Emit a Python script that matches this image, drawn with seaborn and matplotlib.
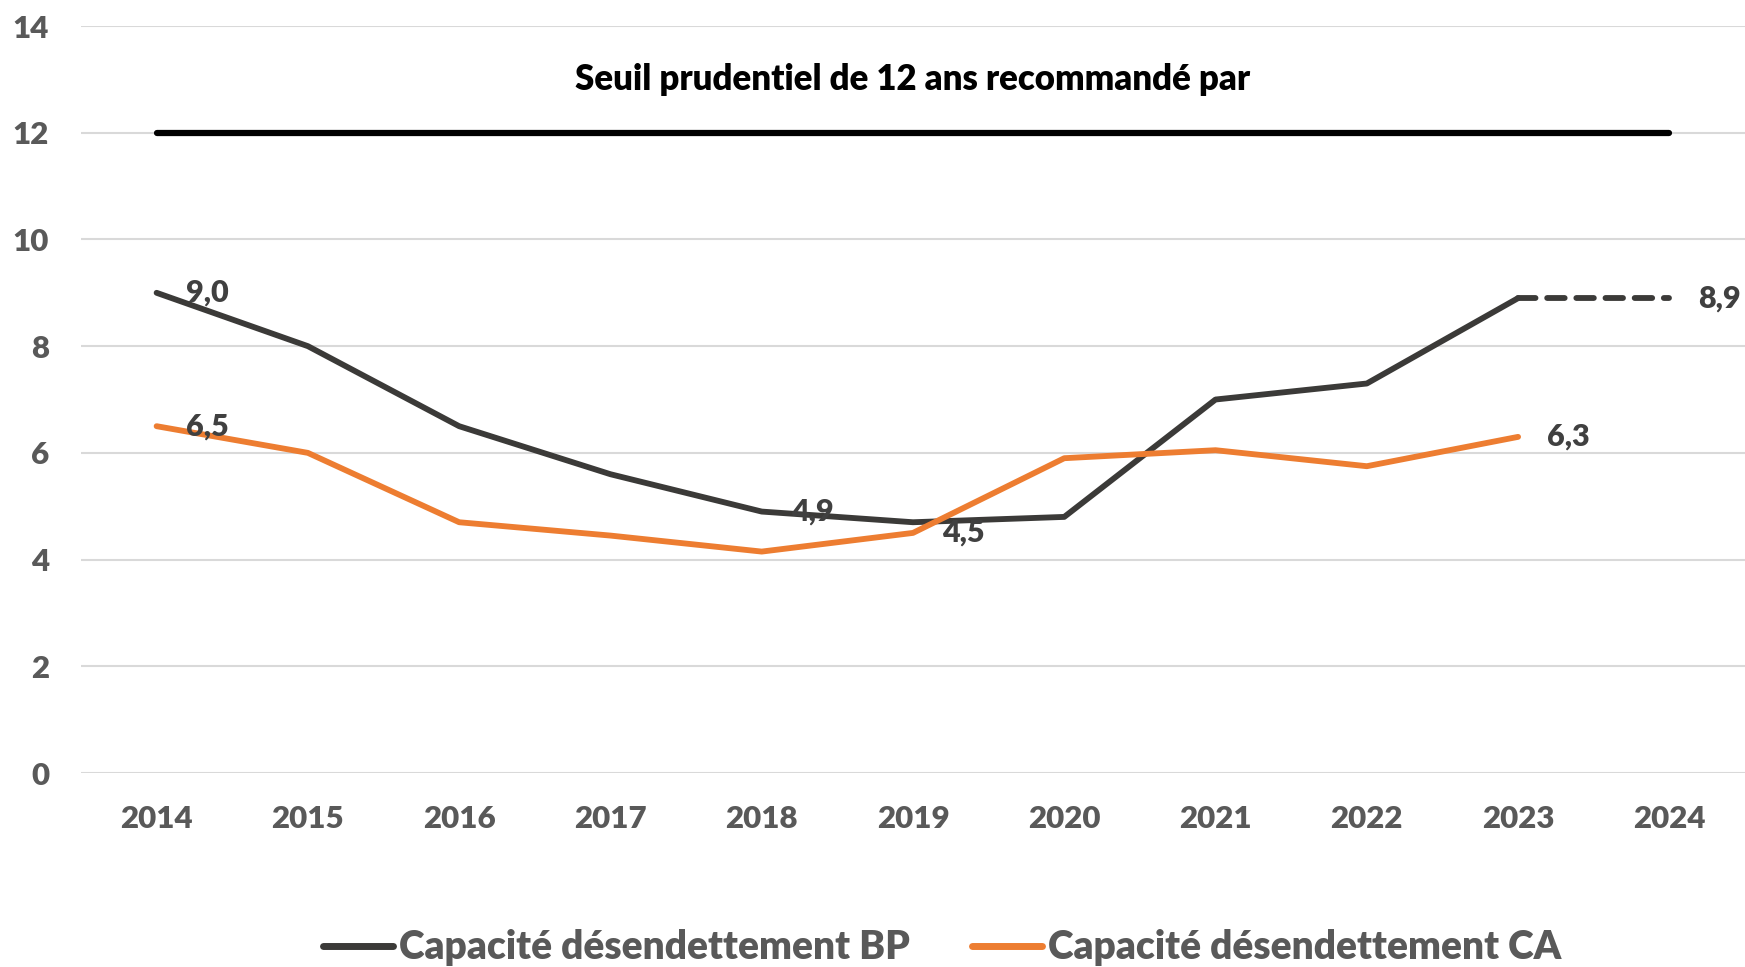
import pandas as pd
import numpy as np
import matplotlib
matplotlib.use('Agg')
import matplotlib.pyplot as plt
import seaborn as sns
from matplotlib.lines import Line2D

# Data
years = [2014, 2015, 2016, 2017, 2018, 2019, 2020, 2021, 2022, 2023]
bp_values = [9.0, 8.0, 6.5, 5.6, 4.9, 4.7, 4.8, 7.0, 7.3, 8.9]
ca_values = [6.5, 6.0, 4.7, 4.45, 4.15, 4.5, 5.9, 6.05, 5.75, 6.3]
proj_years = [2023, 2024]
proj_values = [8.9, 8.9]
seuil_years = [2014, 2024]
seuil_values = [12, 12]
tick_years = [2014, 2015, 2016, 2017, 2018, 2019, 2020, 2021, 2022, 2023, 2024]

bp_label = 'Capacité désendettement BP'
ca_label = 'Capacité désendettement CA'
seuil_text = 'Seuil prudentiel de 12 ans recommandé par'

# (year, value, text) for data labels
labels = [(2014, 9.0, '9,0'), (2014, 6.5, '6,5'), (2018, 4.9, '4,9'),
          (2019, 4.5, '4,5'), (2023, 6.3, '6,3'), (2024, 8.9, '8,9')]

BP_COLOR = '#3b3a38'
CA_COLOR = '#ed7d31'
TXT_COLOR = '#595959'
W = 'heavy'

sns.set_style('white')
plt.rcParams['font.family'] = ['Lato', 'DejaVu Sans']

df_bp = pd.DataFrame({'year': years, 'value': bp_values})
df_ca = pd.DataFrame({'year': years, 'value': ca_values})
df_proj = pd.DataFrame({'year': proj_years, 'value': proj_values})
df_seuil = pd.DataFrame({'year': seuil_years, 'value': seuil_values})

fig = plt.figure(figsize=(17.45, 9.67), dpi=100)
ax = fig.add_axes([0.0464, 0.2006, 0.9536, 0.7725])

sns.lineplot(data=df_seuil, x='year', y='value', ax=ax, color='black',
             linewidth=4.5, solid_capstyle='round')
sns.lineplot(data=df_bp, x='year', y='value', ax=ax, color=BP_COLOR,
             linewidth=4.2, solid_capstyle='round')
sns.lineplot(data=df_ca, x='year', y='value', ax=ax, color=CA_COLOR,
             linewidth=4.2, solid_capstyle='round')
sns.lineplot(data=df_proj, x='year', y='value', ax=ax, color=BP_COLOR,
             linewidth=4.2, dashes=False)
ax.lines[-1].set_linestyle((0, (3, 2)))
ax.lines[-1].set_dash_capstyle('round')

for yr, val, txt in labels:
    ax.annotate(txt, xy=(yr, val), xytext=(21, 0), textcoords='offset points',
                ha='left', va='center', fontsize=22, fontweight=W,
                color='#404040')

ax.text(2019, 13.0, seuil_text, ha='center', va='center', fontsize=25,
        fontweight=W, color='black')

ax.set_xlim(2013.5, 2024.5)
ax.set_ylim(0, 14)
ax.set_xticks(tick_years)
ax.set_yticks(range(0, 15, 2))
ax.set_xlabel('')
ax.set_ylabel('')
ax.grid(axis='y', color='#d9d9d9', linewidth=1.5)
ax.grid(axis='x', visible=False)
for s in ax.spines.values():
    s.set_visible(False)
ax.tick_params(axis='both', length=0, labelsize=22.5, labelcolor=TXT_COLOR)
ax.tick_params(axis='x', pad=23)
ax.tick_params(axis='y', pad=23)
for t in ax.get_xticklabels() + ax.get_yticklabels():
    t.set_fontweight(W)

handles = [Line2D([], [], color=BP_COLOR, linewidth=5, solid_capstyle='round'),
           Line2D([], [], color=CA_COLOR, linewidth=5, solid_capstyle='round')]
fig.legend(handles, [bp_label, ca_label], loc='center', bbox_to_anchor=(0.54, 0.02),
           ncol=2, frameon=False, labelcolor=TXT_COLOR,
           prop={'size': 28, 'weight': W},
           handlelength=1.8, handletextpad=0.15, columnspacing=1.6)

fig.savefig('out.png', dpi=100)
